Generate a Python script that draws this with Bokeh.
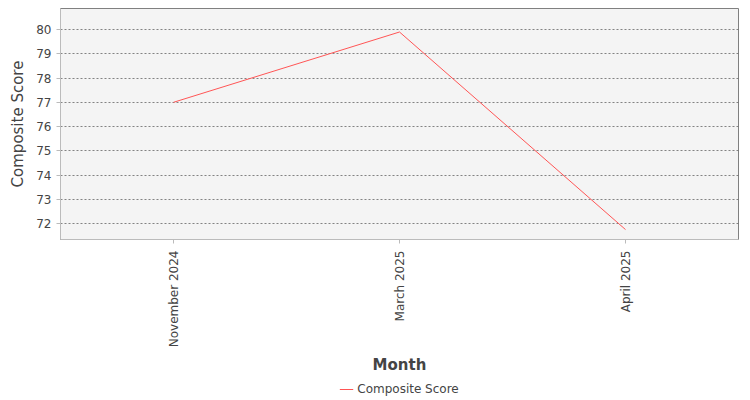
from bokeh.plotting import figure
from bokeh.layouts import column
from bokeh.models import Range1d, SingleIntervalTicker, Legend, LegendItem
from bokeh.embed import file_html
from bokeh.resources import INLINE
from math import pi

months = ["November 2024", "March 2025", "April 2025"]
scores = [77.0, 79.9, 71.75]
series_name = "Composite Score"
line_color = "#ff5555"

p = figure(x_range=months, y_range=Range1d(71.34, 80.87),
           width=750, height=377,
           min_border_left=60, min_border_top=8, min_border_right=12,
           min_border_bottom=138,
           output_backend="svg", toolbar_location=None)

p.background_fill_color = "#f4f4f4"
p.border_fill_color = "white"
p.outline_line_color = "#808080"
p.outline_line_width = 1

p.line(months, scores, line_color=line_color, line_width=1)

p.xgrid.grid_line_color = None
p.ygrid.grid_line_color = "#666666"
p.ygrid.grid_line_dash = "2 2"
p.ygrid.grid_line_width = 0.8

p.yaxis.ticker = SingleIntervalTicker(interval=1)
p.yaxis.minor_tick_line_color = None

for ax in (p.xaxis[0], p.yaxis[0]):
    ax.axis_line_color = "#bbbbbb"
    ax.major_tick_line_color = "#bbbbbb"
    ax.major_tick_in = 0
    ax.major_tick_out = 4
    ax.major_label_text_font = "DejaVu Sans"
    ax.major_label_text_font_size = "12px"
    ax.major_label_text_color = "#444444"
    ax.axis_label_text_font = "DejaVu Sans"
    ax.axis_label_text_font_size = "15px"
    ax.axis_label_text_color = "#444444"

p.xaxis.axis_label = "Month"
p.yaxis.axis_label = series_name
p.xaxis.axis_label_text_font_style = "bold"
p.yaxis.axis_label_text_font_style = "normal"
p.xaxis.major_label_orientation = pi / 2
p.xaxis.major_label_standoff = 7
p.xaxis.axis_label_standoff = 6
p.yaxis.axis_label_standoff = 6

# legend strip under the chart (series drawn off-range, only the legend shows)
lf = figure(width=750, height=23, x_range=months, y_range=Range1d(0, 1),
            min_border=0, output_backend="svg", toolbar_location=None)
lf.axis.visible = False
lf.grid.grid_line_color = None
lf.outline_line_color = None
key = lf.line(months, scores, line_color=line_color, line_width=1)

legend = Legend(items=[LegendItem(label=series_name, renderers=[key])],
                location="center", orientation="horizontal",
                border_line_color=None, background_fill_alpha=0,
                label_text_font="DejaVu Sans", label_text_font_size="12px",
                label_text_color="#444444", glyph_width=14, glyph_height=12,
                label_height=14, label_standoff=4, padding=2, margin=0)
lf.add_layout(legend)

layout = column(p, lf, spacing=0)
open("out.html", "w").write(file_html(layout, INLINE))
